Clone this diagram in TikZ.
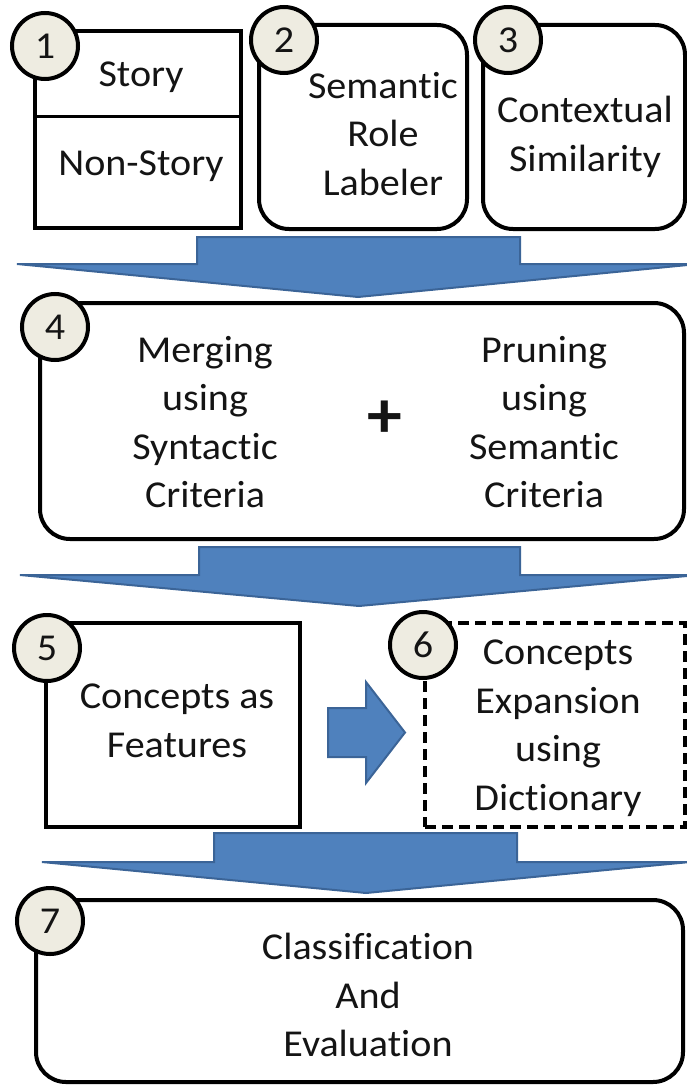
\documentclass[tikz,border=0pt]{standalone}
\usepackage{fontspec}
\setmainfont{Carlito}[Ligatures={NoCommon,NoRare,NoContextual},FakeStretch=1.055]
\definecolor{numfill}{HTML}{EEECE1}
\definecolor{arrowfill}{HTML}{4F81BD}
\definecolor{arrowline}{HTML}{3B6497}
\definecolor{ink}{HTML}{141414}
\begin{document}
\begin{tikzpicture}[x=1pt,y=-1pt,
  box/.style={draw, line width=4pt, fill=white, inner sep=0pt},
  rbox/.style={box, rounded corners=30pt},
  dbox/.style={box, dash pattern=on 11pt off 6pt},
  num/.style={circle, draw, line width=4pt, fill=numfill, minimum size=66pt, inner sep=0pt, text=ink, font=\fontsize{38}{46}\selectfont},
  txt/.style={align=center, inner sep=0pt, text=ink, font=\fontsize{38}{48.5}\selectfont},
  blk/.style={fill=arrowfill, draw=arrowline, line width=2pt, line join=miter}]
\clip (0,0) rectangle (687,1086);

% boxes
\node[box,  minimum width=206pt, minimum height=197pt] (b1) at (138,129.5) {};
\node[rbox, minimum width=208pt, minimum height=204pt] (b2) at (363,127) {};
\node[rbox, minimum width=202pt, minimum height=204pt] (b3) at (584,127) {};
\node[rbox, minimum width=644pt, minimum height=236pt] (b4) at (362,421) {};
\node[box,  minimum width=254pt, minimum height=204pt] (b5) at (173,725) {};
\node[dbox, minimum width=260pt, minimum height=204pt] (b6) at (555,725) {};
\node[rbox, minimum width=647pt, minimum height=182pt] (b7) at (359.5,991) {};

\coordinate (split) at (0,117);
\draw[line width=3pt] (b1.west |- split) -- (b1.east |- split);

% texts
\node[txt] (t1a) at (141,77) {Story};
\node[txt] (t1b) at (141,166) {Non-Story};
\node[txt] (t2) at (383,134) {Semantic\\Role\\Labeler};
\node[txt] (t3) at (585,137) {Contextual\\Similarity};
\node[txt] (t4a) at (205,422) {Merging\\using\\Syntactic\\Criteria};
\node[txt] (t4b) at (544,422) {Pruning\\using\\Semantic\\Criteria};
\node[inner sep=0pt, text=ink, font=\fontsize{66}{66}\selectfont\bfseries] (plus) at (385,419) {+};
\node[txt] (t5) at (177,721) {Concepts as\\Features};
\node[txt] (t6) at (558,728) {Concepts\\Expansion\\using\\Dictionary};
\node[txt] (t7) at (368,995) {Classification\\And\\Evaluation};

% number circles
\node[num] (n1) at (45,46) {1};
\node[num] (n2) at (284,40) {2};
\node[num] (n3) at (508,40) {3};
\node[num] (n4) at (55,327) {4};
\node[num] (n5) at (47,648) {5};
\node[num] (n6) at (423,645) {6};
\node[num] (n7) at (50,921) {7};

% block arrows
\draw[blk] (197,237) -- (520,237) -- (520,264) -- (698,264) -- (358,297) -- (17,264) -- (197,264) -- cycle;
\draw[blk] (199,547) -- (520,547) -- (520,575) -- (698,575) -- (359,606) -- (20,575) -- (199,575) -- cycle;
\draw[blk] (214,833) -- (517,833) -- (517,862) -- (690,862) -- (366,893) -- (42,862) -- (214,862) -- cycle;
\draw[blk] (328,708) -- (366,708) -- (366,682) -- (405,732.5) -- (366,783) -- (366,757) -- (328,757) -- cycle;
\end{tikzpicture}
\end{document}
